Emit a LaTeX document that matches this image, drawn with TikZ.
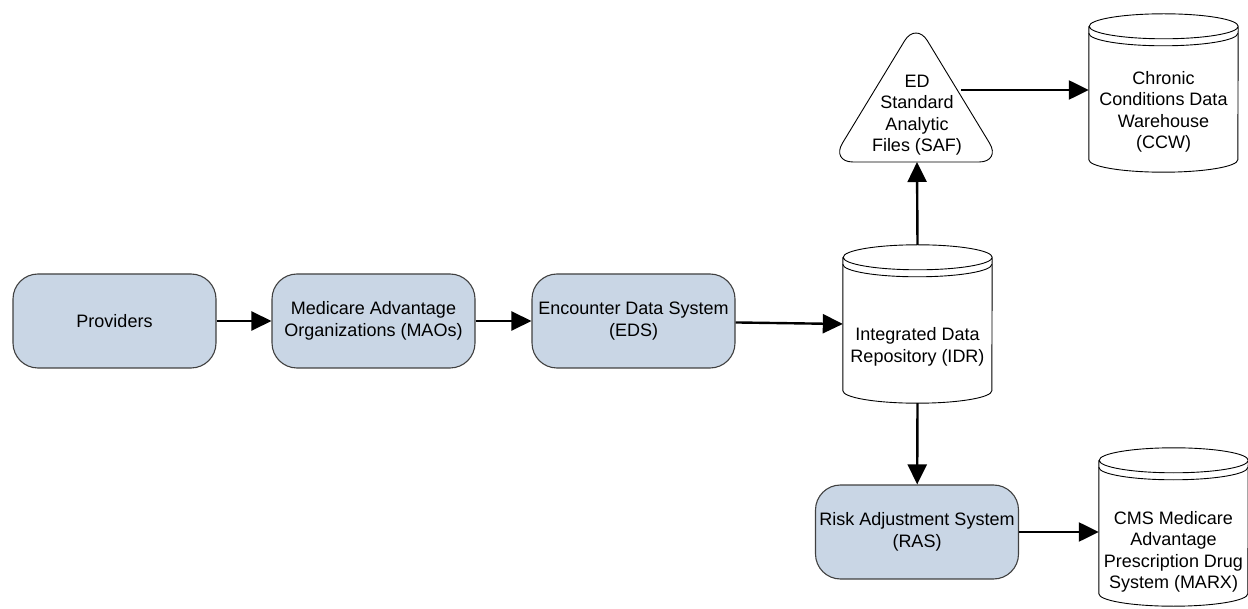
\documentclass[tikz,border=0pt]{standalone}
\usepackage{fontspec}
\setmainfont{Liberation Sans}
\usepackage{tikz}
\usetikzlibrary{arrows.meta}
\usetikzlibrary{positioning}
\definecolor{boxblue}{RGB}{201,214,229}
\tikzstyle{process}=[draw=black!75,fill=boxblue,rounded corners=25pt,minimum width=203pt,minimum height=94pt,align=center,line width=1.1pt]
\tikzstyle{store}=[rectangle,minimum width=149pt,minimum height=158pt,inner sep=0pt]
\tikzstyle{txt}=[align=center,inner sep=0pt]
\tikzstyle{flow}=[line width=2.4pt,-{Triangle[length=20pt,width=19pt]}]

\begin{document}
\begin{tikzpicture}[x=1pt,y=-1pt,every node/.style={font=\fontsize{18}{21.5}\selectfont}]
\useasboundingbox (0,0) rectangle (1248,609);
% boxes
\node [process] (prov) at (114.5,321) {Providers};
\node [process] (mao) at (373.5,321) {Medicare Advantage\\Organizations (MAOs)};
\node [process] (eds) at (633.5,321) {Encounter Data System\\(EDS)};
\node [process] (ras) at (917,532) {Risk Adjustment System\\(RAS)};
% data stores
\node [store] (idr) at (917.5,324) {};
\node [store] (ccw) at (1163.5,93) {};
\node [store] (marx) at (1173.5,527) {};
\foreach \n in {idr,ccw,marx} {
  \draw[line width=0.9pt] ([yshift=-12.5pt]\n.north west) -- ([yshift=12.5pt]\n.south west)
    arc[start angle=180,end angle=360,x radius=74.5pt,y radius=12.5pt]
    -- ([yshift=-12.5pt]\n.north east)
    arc[start angle=0,end angle=360,x radius=74.5pt,y radius=12.5pt];
  \draw[line width=0.9pt] ([yshift=-19.5pt]\n.north west)
    arc[start angle=180,end angle=360,x radius=74.5pt,y radius=12.5pt];
}
\node [txt] (idrtxt) at (917.5,347) {Integrated Data\\Repository (IDR)};
\node [txt] (ccwtxt) at (1163.5,112) {Chronic\\Conditions Data\\Warehouse\\(CCW)};
\node [txt] (marxtxt) at (1173.5,552) {CMS Medicare\\Advantage\\Prescription Drug\\System (MARX)};
% analytic files
\draw[line width=0.9pt,rounded corners=22pt] (916,162) -- (1001,162) -- (916,22) -- (831,162) -- cycle;
\node [txt] (saf) at (917,115) {ED\\Standard\\Analytic\\Files (SAF)};
\coordinate (safbase) at (917,162);
\coordinate (safside) at (961,90);
% flows
\draw[flow] (prov) -- (mao);
\draw[flow] (mao) -- (eds);
\draw[flow] (eds) -- (idr.west);
\draw[flow] (idr.north) -- (safbase);
\draw[flow] (safside) -- (safside -| ccw.west);
\draw[flow] (idr.south) -- (ras);
\draw[flow] (ras) -- (ras.east -| marx.west);
\end{tikzpicture}
\end{document}
